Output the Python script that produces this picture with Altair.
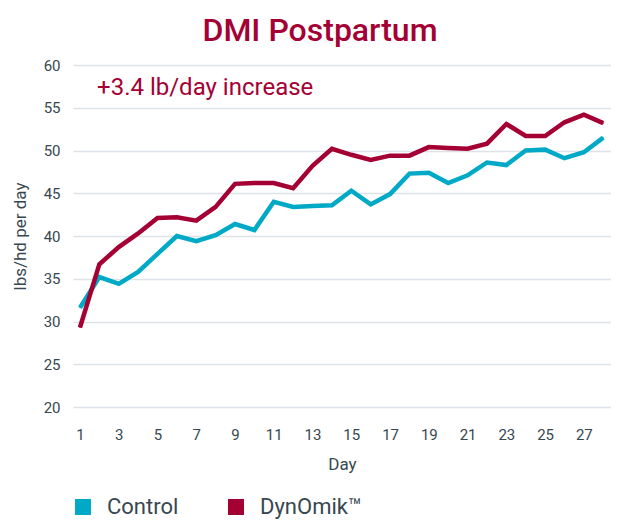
import altair as alt
import pandas as pd

days = list(range(1, 29))
control = [31.6, 35.2, 34.4, 35.8, 37.9, 40.0, 39.4, 40.1, 41.4, 40.7, 44.0, 43.4, 43.5, 43.6,
           45.3, 43.7, 44.9, 47.3, 47.4, 46.2, 47.1, 48.6, 48.3, 50.0, 50.1, 49.1, 49.8, 51.5]
dynomik = [29.3, 36.7, 38.7, 40.3, 42.1, 42.2, 41.8, 43.4, 46.1, 46.2, 46.2, 45.6, 48.2, 50.2,
           49.5, 48.9, 49.4, 49.4, 50.4, 50.3, 50.2, 50.8, 53.1, 51.7, 51.7, 53.3, 54.2, 53.2]
series_names = ["Control", "DynOmik™"]
y_ticks = [20, 25, 30, 35, 40, 45, 50, 55, 60]
x_ticks = list(range(1, 28, 2))
annot_text = ["+3.4 lb/day increase"]
annot_x = [1.88]
annot_y = [57.3]

CRIMSON = "#a50034"
TEAL = "#00a9c6"
TEXT = "#37474f"
GRID = "#dde3e8"
FONT = "Roboto"

df = pd.DataFrame({
    "Day": days * 2,
    "value": control + dynomik,
    "series": [series_names[0]] * len(days) + [series_names[1]] * len(days),
})
ann = pd.DataFrame({"x": annot_x, "y": annot_y, "t": annot_text})

xscale = alt.Scale(domain=[0.64, 28.4], nice=False, zero=False)
yscale = alt.Scale(domain=[20, 60], nice=False, zero=False)

lines = alt.Chart(df).mark_line(strokeWidth=4.5, strokeJoin="miter").encode(
    x=alt.X("Day:Q", scale=xscale, title="Day",
            axis=alt.Axis(values=x_ticks, grid=False, domain=False, ticks=False,
                          labelPadding=20, labelFontSize=15, labelColor=TEXT, labelFont=FONT,
                          titleFontSize=17, titleColor=TEXT, titleFont=FONT, titleFontWeight="normal",
                          titlePadding=14)),
    y=alt.Y("value:Q", scale=yscale, title="lbs/hd per day",
            axis=alt.Axis(values=y_ticks, grid=True, gridColor=GRID, gridWidth=1.5,
                          domain=False, ticks=False,
                          labelPadding=13, labelFontSize=15, labelColor=TEXT, labelFont=FONT,
                          titleFontSize=17, titleColor=TEXT, titleFont=FONT, titleFontWeight="normal",
                          titlePadding=14)),
    color=alt.Color("series:N",
                    scale=alt.Scale(domain=series_names, range=[TEAL, CRIMSON]),
                    legend=None),
)

legend_pts = alt.Chart(df).mark_square(size=1, opacity=1, clip=True).encode(
    x=alt.X("Day:Q", scale=xscale),
    y=alt.Y("value:Q", scale=yscale),
    fill=alt.Fill("series:N",
                  scale=alt.Scale(domain=series_names, range=[TEAL, CRIMSON]),
                  legend=alt.Legend(title=None, orient="none", direction="horizontal",
                                    legendX=-1, legendY=431,
                                    symbolType="square", symbolSize=256,
                                    symbolStrokeWidth=0, symbolOpacity=1,
                                    labelFontSize=22, labelColor=TEXT, labelFont=FONT,
                                    labelOffset=13, columnPadding=46)),
)

text = alt.Chart(ann).mark_text(align="left", baseline="middle", fontSize=24,
                                color=CRIMSON, font=FONT).encode(
    x=alt.X("x:Q", scale=xscale), y=alt.Y("y:Q", scale=yscale), text="t:N")

chart = alt.layer(legend_pts, lines, text).properties(
    width=538, height=342,
    title=alt.TitleParams("DMI Postpartum", fontSize=32, color=CRIMSON, font=FONT,
                          fontWeight=500, anchor="middle", frame="group", dx=-22, offset=10),
    autosize=alt.AutoSizeParams(type="none"),
    padding={"left": 65, "top": 57, "right": 0, "bottom": 112},
).configure_view(stroke=None)

chart.save("out.html", embed_options={"renderer": "svg", "actions": False})
